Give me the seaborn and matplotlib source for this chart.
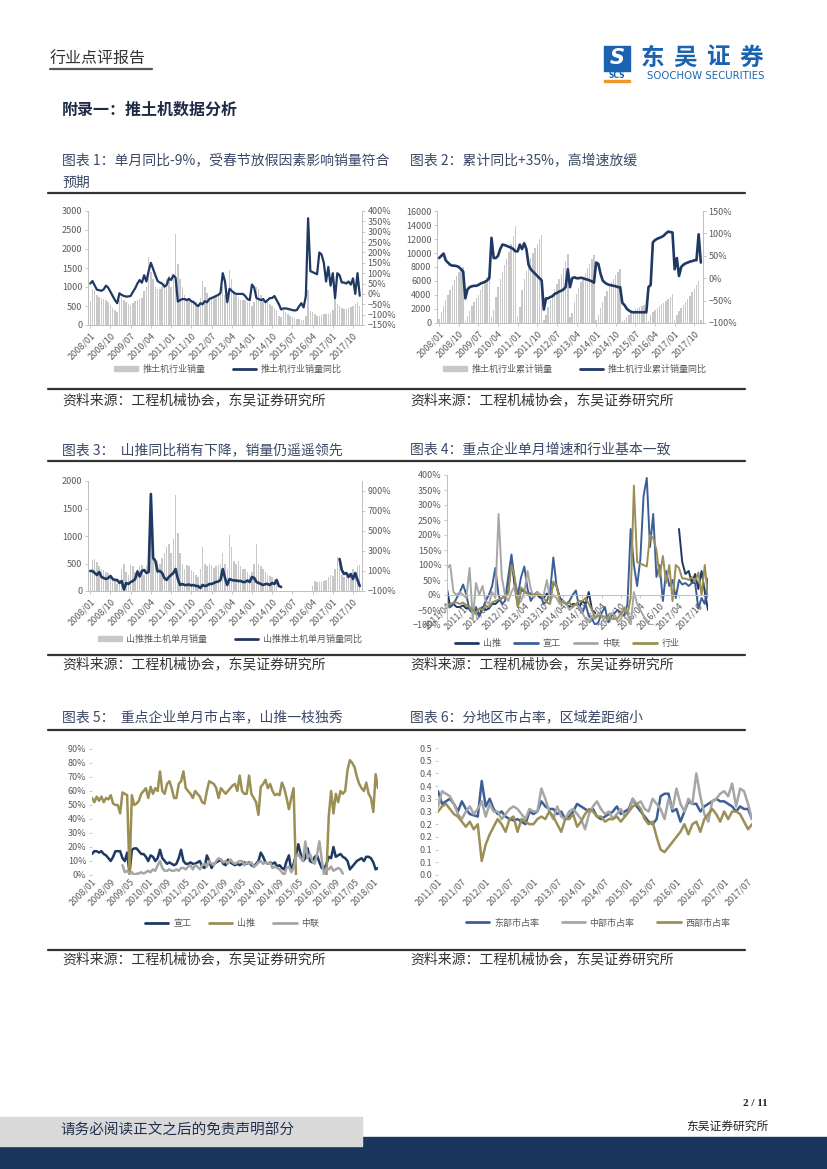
import numpy as np
import pandas as pd
import matplotlib
matplotlib.use("Agg")
import matplotlib.pyplot as plt
import matplotlib.ticker as mticker
from matplotlib.lines import Line2D
from matplotlib.patches import Patch, Rectangle
import seaborn as sns

nan = np.nan

# ── Data: industry bulldozer sales, 2008/01 – 2018/01 ─────────────────────────
IND_SALES = [630, 950, 920, 800, 740, 720, 680, 650, 610, 520, 440, 400,
             350, 650, 750, 650, 600, 550, 520, 580, 620, 650, 680, 700,
             900, 1000, 1800, 1400, 1200, 1000, 950, 950, 1000, 1100, 1200, 1300,
             1000, 1300, 2400, 1600, 1200, 1000, 800, 700, 700, 650, 650, 600,
             450, 700, 1150, 1000, 850, 750, 700, 700, 750, 850, 950, 1000,
             800, 700, 1450, 1200, 900, 800, 700, 650, 650, 650, 600, 600,
             500, 600, 1000, 950, 800, 700, 650, 600, 550, 500, 450, 400,
             250, 200, 400, 350, 300, 250, 200, 180, 170, 150, 130, 120,
             225, 930, 380, 330, 280, 250, 250, 270, 280, 280, 300, 320,
             400, 700, 550, 500, 450, 420, 420, 450, 470, 500, 550, 600,
             500]
IND_YOY = [50, 62, 40, 20, 18, 15, 22, 40, 30, 10, -10, -30,
           -45, 3, -5, -10, -13, -12, -10, 10, 27, 50, 67, 54,
           90, 60, 110, 150, 120, 90, 62, 55, 50, 35, 43, 75,
           67, 90, 78, -37, -30, -25, -25, -30, -25, -35, -40, -50,
           -60, -45, -50, -35, -40, -25, -20, -15, -10, -5, 5, 100,
           60, -40, 25, 15, 5, 0, 0, 0, 0, -10, -25, -30,
           45, 30, -20, -25, -30, -25, -40, -30, -20, -20, -10, -30,
           -50, -75, -70, -70, -72, -75, -78, -80, -78, -60, -45, -65,
           -10, 365, 110, 105, 100, 95, 200, 190, 150, 60, 130, 40,
           100, -20, 100, 90, 55, 55, 50, 60, 45, 75, 0, 100,
           -9]
IND_CUM = [630, 1580, 2500, 3300, 4040, 4760, 5440, 6090, 6700, 7220, 7660, 8060,
           350, 1000, 1750, 2400, 3000, 3550, 4070, 4650, 5270, 5920, 6600, 7300,
           900, 1900, 3700, 5100, 6300, 7300, 8250, 9200, 10200, 11300, 12500, 13800,
           1000, 2300, 4700, 6300, 7500, 8500, 9300, 10000, 10700, 11350, 12000, 12600,
           450, 1150, 2300, 3300, 4150, 4900, 5600, 6300, 7050, 7900, 8850, 9850,
           800, 1500, 2950, 4150, 5050, 5850, 6550, 7200, 7850, 8500, 9100, 9700,
           500, 1100, 2100, 3050, 3850, 4550, 5200, 5800, 6350, 6850, 7300, 7700,
           250, 450, 850, 1200, 1500, 1750, 1950, 2130, 2300, 2450, 2580, 2700,
           225, 1155, 1535, 1865, 2145, 2395, 2645, 2915, 3195, 3475, 3775, 4095,
           400, 1100, 1650, 2150, 2600, 3020, 3440, 3890, 4360, 4860, 5410, 6010,
           500]
IND_CUM_YOY = [45, 50, 55, 40, 35, 30, 28, 28, 27, 25, 20, 15,
               -45, -25, -20, -18, -17, -17, -15, -12, -10, -8, -5, 0,
               90, 45, 45, 50, 65, 75, 74, 72, 70, 68, 65, 60,
               60, 75, 65, 78, 65, 30, 20, 15, 10, 5, 0, -5,
               -70, -45, -45, -42, -40, -35, -33, -30, -28, -25, -20, 20,
               -20, 0, 2, 0, 0, 1, 0, -2, -3, -5, -7, -10,
               35, 32, 10, -5, -10, -13, -15, -16, -17, -18, -20, -20,
               -55, -60, -68, -72, -75, -76, -76, -76, -76, -76, -76, -76,
               -20, -15, 80, 85, 88, 90, 92, 95, 100, 104, 103, 102,
               20, 45, 5, 25, 30, 33, 35, 37, 38, 40, 40, 98,
               35]

# ── Data: Shantui monthly sales, 2008/01 – 2018/01 ────────────────────────────
ST_SALES = [350, 560, 580, 520, 450, 400, 380, 350, 320, 300, 250, 200,
            120, 200, 400, 500, 350, 300, 480, 450, 350, 400, 450, 480,
            300, 450, 900, 980, 800, 600, 550, 500, 600, 700, 800, 850,
            700, 950, 1750, 1050, 700, 500, 400, 480, 450, 380, 350, 300,
            250, 400, 800, 500, 450, 500, 480, 420, 450, 480, 500, 700,
            500, 400, 1020, 800, 550, 500, 550, 450, 400, 400, 350, 300,
            350, 500, 850, 500, 450, 400, 350, 300, 280, 250, 220, 180,
            nan, nan, nan, nan, nan, nan, nan, nan, nan, nan, nan, nan,
            nan, nan, nan, 100, 180, 160, 170, 170, 180, 200, 250, 300,
            280, 400, 620, 590, 300, 250, 280, 330, 300, 400, 350, 450,
            480]
ST_YOY = [100, 100, 80, 60, 90, 40, 30, 20, 30, 50, 20, 10,
          10, -20, 0, -85, -20, -30, -10, 0, 20, 95, 45, 100,
          110, 80, 90, 870, 230, 200, 95, 100, 80, 30, 10, 40,
          60, 80, 120, 20, -40, -30, -40, -40, -35, -45, -40, -50,
          -50, -70, -40, -50, -45, -30, -30, -20, -10, -5, 10, 120,
          30, -40, 20, 10, 5, 5, 0, 0, -10, -10, 5, -10,
          40, 30, -10, -20, -30, -40, -30, -30, -40, -20, -30, 10,
          -50, -60, nan, nan, nan, nan, nan, nan, nan, nan, nan, nan,
          nan, nan, nan, nan, nan, nan, nan, nan, nan, nan, nan, nan,
          nan, nan, nan, 220, 110, 70, 80, 40, 70, 20, 80, 10,
          -50]

# ── Data: chart 4, single-month yoy 2011/04 – 2018/01 (%) ────────────────────
XG_YOY = [-20, -40, -30, -10, 10, 35, 0, -50, -60,
          -40, -70, -50, -20, 0, 30, 90, 0, -30, -20, 60, 135,
          50, 0, 60, 95, 20, -20, 0, 10, 0, -30, -20, 10,
          125, 30, -10, -20, -30, -20, 0, 15, -40, -60, -30, -70,
          -80, -100, -90, -60, -40, -90, -70, -60, -50, -60, -70, -30,
          220, 100, 30, 120, 330, 390, 160, 270, 60, 100, -20, 80,
          30, 50, -10, 50, 35, 40, 30, 40, 40, -45, -10, -30,
          55]
ZL_YOY = [90, 100, 10, 0, 10, 0, -10, 90, -80, 40,
          0, 30, -20, -30, 10, -10, 270, 60, 0, -20,
          10, 30, -30, -20, 10, 80, 20, -10, 10, 0,
          0, 50, -20, 0, -10, -30, -20, -30, -50, -40,
          -30, -40, -60, -80, -90, -70, -80, -60, -70, -90,
          -80, -60, -70, -90, -80, -40, -60, -100, 10, -30,
          -50, -70, -90, -100, -100,
          nan, nan, nan, nan, nan, nan, nan, nan, nan, nan, nan, nan, nan, nan, nan, nan, nan]

# ── Data: chart 5, market share 2008/01 – 2018/03 (%) ─────────────────────────
SHARE_XG = [15, 17, 17, 16, 17, 15, 14, 12, 10, 13, 17, 17,
            17, 12, 10, 16, 1, 18, 19, 19, 17, 15, 15, 13,
            10, 14, 13, 10, 12, 18, 12, 10, 8, 9, 8, 7,
            8, 12, 18, 10, 8, 8, 9, 8, 8, 9, 10, 6,
            5, 14, 10, 5, 8, 9, 10, 11, 8, 7, 11, 9,
            8, 7, 8, 7, 8, 9, 8, 9, 7, 6, 8, 10,
            16, 13, 9, 8, 9, 8, 9, 6, 7, 5, 4, 10,
            14, 3, 8, 14, 22, 15, 10, 12, 19, 10, 9, 13,
            14, 9, 5, 4, 8, 13, 12, 20, 13, 14, 15, 13,
            12, 10, 4, 6, 8, 10, 11, 12, 10, 13, 13, 12,
            9, 4, 5]
SHARE_ST = [55, 52, 56, 53, 56, 52, 55, 54, 57, 51, 50, 50,
            44, 59, 58, 57, 0, 57, 50, 51, 53, 58, 60, 62,
            55, 63, 58, 62, 60, 74, 60, 58, 65, 67, 62, 55,
            55, 65, 67, 74, 62, 60, 58, 55, 60, 58, 56, 52,
            51, 60, 67, 66, 65, 62, 55, 62, 60, 58, 60, 62,
            64, 65, 60, 71, 60, 58, 58, 71, 58, 55, 52, 43,
            63, 65, 68, 62, 65, 60, 57, 58, 57, 66, 62, 55,
            47, 55, 62, 0, nan, nan, nan, nan, nan, nan, nan, nan,
            nan, nan, nan, nan, 0, 42, 60, 44, 58, 52, 60, 58,
            60, 75, 82, 80, 77, 70, 65, 62, 60, 66, 58, 55,
            45, 72, 62]
SHARE_ZL = [nan, nan, nan, nan, nan, nan, nan, nan, nan, nan, nan, nan,
            nan, 7, 2, 3, 1, 2, 0, 1, 1, 2, 1, 2,
            3, 2, 4, 3, 7, 10, 5, 3, 3, 4, 3, 3,
            4, 3, 5, 5, 4, 6, 7, 4, 7, 6, 4, 7,
            8, 6, 10, 8, 7, 10, 12, 11, 9, 10, 8, 11,
            9, 8, 9, 10, 10, 7, 9, 8, 9, 6, 7, 9,
            10, 8, 9, 8, 9, 5, 6, 5, 4, 2, 0, 5,
            6, 2, 5, 13, 15, 12, 10, 24, 12, 15, 10, 8,
            15, 24, 11, 0, 5, 4, 6, 3, 4, 5, 4, 1,
            nan, nan, nan, nan, nan, nan, nan, nan, nan, nan, nan, nan,
            nan, nan, nan]

# ── Data: chart 6, regional share 2011/01 – 2017/08 ──────────────────────────
EAST = [.33, .28, .29, .30, .28, .25, .29, .26, .24, .235, .23, .37,
        .27, .30, .26, .24, .25, .23, .22, .215, .22, .21, .20, .25,
        .24, .25, .29, .27, .26, .26, .24, .25, .22, .23, .25, .28,
        .27, .26, .25, .26, .23, .22, .23, .24, .25, .27, .24, .25,
        .26, .30, .27, .25, .23, .21, .20, .22, .31, .32, .32, .25,
        .26, .21, .25, .29, .28, .28, .25, .27, .28, .29, .30, .29,
        .29, .28, .27, .25, .27, .26, .26, .22]
CENTRAL = [.27, .33, .32, .31, .28, .24, .22, .25, .27, .24, .26, .29,
           .23, .28, .25, .25, .22, .24, .26, .27, .26, .24, .22, .26,
           .25, .25, .34, .30, .25, .22, .27, .23, .22, .25, .26, .24,
           .22, .18, .24, .27, .29, .26, .24, .25, .22, .24, .26, .23,
           .25, .30, .28, .29, .26, .25, .30, .28, .26, .22, .30, .26,
           .34, .28, .25, .30, .28, .40, .31, .24, .21, .29, .30, .32,
           .33, .31, .36, .27, .34, .33, .28, .22]
WEST = [.25, .27, .28, .26, .24, .23, .21, .19, .21, .18, .20, .055,
        .12, .16, .19, .22, .20, .17, .22, .23, .17, .22, .21, .20,
        .20, .22, .23, .22, .25, .23, .20, .17, .22, .22, .24, .19,
        .21, .24, .26, .25, .23, .23, .21, .22, .22, .23, .21, .23,
        .25, .27, .28, .26, .22, .20, .21, .15, .10, .09, .11, .13,
        .15, .17, .20, .16, .20, .21, .17, .22, .24, .26, .24, .21,
        .25, .22, .25, .25, .24, .21, .18, .20]

TICKS_9M = ["2008/01", "2008/10", "2009/07", "2010/04", "2011/01", "2011/10", "2012/07",
            "2013/04", "2014/01", "2014/10", "2015/07", "2016/04", "2017/01", "2017/10"]
TICKS_C4 = ["2011/04", "2011/10", "2012/04", "2012/10", "2013/04", "2013/10", "2014/04",
            "2014/10", "2015/04", "2015/10", "2016/04", "2016/10", "2017/04", "2017/10"]
TICKS_C5 = ["2008/01", "2008/09", "2009/05", "2010/01", "2010/09", "2011/05", "2012/01", "2012/09",
            "2013/05", "2014/01", "2014/09", "2015/05", "2016/01", "2016/09", "2017/05", "2018/01"]
TICKS_C6 = ["2011/01", "2011/07", "2012/01", "2012/07", "2013/01", "2013/07", "2014/01",
            "2014/07", "2015/01", "2015/07", "2016/01", "2016/07", "2017/01", "2017/07"]
Y6_TICKS = [0, .05, .10, .15, .20, .25, .30, .35, .40, .45, .50]
Y6_LABELS = ["0.0", "0.1", "0.1", "0.2", "0.2", "0.3", "0.3", "0.4", "0.4", "0.5", "0.5"]

# ── Style ─────────────────────────────────────────────────────────────────────
sns.set_theme(style="ticks")
plt.rcParams["font.family"] = ["Noto Sans CJK SC", "DejaVu Sans"]

BAR_C = "#c8c8c8"
NAVY = "#1f3864"
BLUE = "#3c5f97"
GRAY = "#a6a6a6"
OLIVE = "#9b8f55"
TICK_C = "#595959"
SPINE_C = "#bfbfbf"
TITLE_C = "#3a4966"

W, H = 827, 1169
fig = plt.figure(figsize=(W / 100, H / 100), dpi=100)


def fx(x):
    return x / W


def fy(y):
    return 1 - y / H


def add_ax(l, t, r, b):
    return fig.add_axes([fx(l), fy(b), (r - l) / W, (b - t) / H])


def hline(y, x0=48, x1=745, lw=1.6, color="#333333"):
    fig.add_artist(Line2D([fx(x0), fx(x1)], [fy(y), fy(y)], lw=lw, color=color))


def text(x, y, s, **kw):
    kw.setdefault("va", "center")
    fig.text(fx(x), fy(y), s, **kw)


def style(ax):
    ax.tick_params(labelsize=6.5, labelcolor=TICK_C, color=SPINE_C,
                   length=2.5, width=0.6, pad=1.5)
    ax.set_xlabel("")
    ax.set_ylabel("")
    for s in ax.spines.values():
        s.set_color(SPINE_C)
        s.set_linewidth(0.7)
    ax.spines["top"].set_visible(False)


def month_ticks(ax, labels, y0, m0):
    pos = [(int(s[:4]) - y0) * 12 + int(s[5:]) - m0 for s in labels]
    ax.set_xticks(pos, labels, rotation=45, ha="right", rotation_mode="anchor")


def draw_line(ax, values, color, lw=1.6):
    v = pd.Series(values, dtype=float)
    df = pd.DataFrame({"m": np.arange(len(v)), "v": v,
                       "seg": v.isna().cumsum()}).dropna()
    sns.lineplot(data=df, x="m", y="v", units="seg", estimator=None,
                 color=color, lw=lw, ax=ax)


def draw_bars(ax, values):
    sns.barplot(x=np.arange(len(values)), y=values, native_scale=True,
                color=BAR_C, saturation=1, width=0.65, errorbar=None,
                linewidth=0, edgecolor="none", ax=ax)


def legend(handles, labels, cx, cy, gap=3.0):
    fig.legend(handles, labels, loc="center", bbox_to_anchor=(fx(cx), fy(cy)),
               ncol=len(labels), frameon=False, fontsize=6.5, labelcolor=TICK_C,
               handlelength=2.6, handleheight=0.6, columnspacing=gap, handletextpad=0.5)


pct = mticker.StrMethodFormatter("{x:.0f}%")

# ── Page header / footer ──────────────────────────────────────────────────────
text(50, 59, "行业点评报告", fontsize=11.5, color="#333333")
hline(69, 50, 152, lw=1.6, color="#555555")
fig.add_artist(Rectangle((fx(604), fy(71)), 26 / W, 25 / H, color="#1b63b0"))
text(617, 58.5, "S", fontsize=15, color="white", fontweight="bold",
     style="italic", ha="center", family="DejaVu Sans")
text(617, 76, "SCS", fontsize=5.5, color="#1b63b0", fontweight="bold",
     ha="center", family="DejaVu Sans")
fig.add_artist(Rectangle((fx(604), fy(82)), 26 / W, 2 / H, color="#f0962a"))
for cx, ch in zip([652, 685, 718, 751], "东吴证券"):
    text(cx, 58, ch, fontsize=17, color="#1b63b0", fontweight="bold", ha="center")
text(706, 76, "SOOCHOW SECURITIES", fontsize=7.3, color="#1b63b0",
     ha="center", family="DejaVu Sans")
text(62, 110, "附录一：推土机数据分析", fontsize=11.5, color="#1f2a44", fontweight="bold")

fig.add_artist(Rectangle((0, 0), 1, (H - 1137) / H, color="#1b365d"))
fig.add_artist(Rectangle((0, fy(1146)), 362 / W, 29 / H, color="#d9d9d9"))
text(60, 1131, "请务必阅读正文之后的免责声明部分", fontsize=10.5, color="#1f2f4f")
text(768, 1104, "2 / 11", fontsize=8, color="#222222", ha="right",
     fontweight="bold", family="Liberation Serif")
text(768, 1126, "东吴证券研究所", fontsize=8.5, color="#222222", ha="right")

# ── Titles, rules, sources ────────────────────────────────────────────────────
text(62, 160, "图表 1：单月同比-9%，受春节放假因素影响销量符合", fontsize=10, color=TITLE_C)
text(62, 183, "预期", fontsize=10, color=TITLE_C)
text(410, 160, "图表 2：累计同比+35%，高增速放缓", fontsize=10, color=TITLE_C)
text(62, 450, "图表 3：  山推同比稍有下降，销量仍遥遥领先", fontsize=10, color=TITLE_C)
text(410, 450, "图表 4：重点企业单月增速和行业基本一致", fontsize=10, color=TITLE_C)
text(62, 717, "图表 5：  重点企业单月市占率，山推一枝独秀", fontsize=10, color=TITLE_C)
text(410, 717, "图表 6：分地区市占率，区域差距缩小", fontsize=10, color=TITLE_C)
for y in [193, 461, 730]:
    hline(y)
for y_rule, y_src in [(389, 400), (655, 664), (950, 959)]:
    hline(y_rule)
    text(62, y_src, "资料来源：工程机械协会，东吴证券研究所", fontsize=10, color="#333333")
    text(410, y_src, "资料来源：工程机械协会，东吴证券研究所", fontsize=10, color="#333333")

# ── Chart 1: monthly sales + yoy ──────────────────────────────────────────────
ax = add_ax(88, 211, 362, 325)
draw_bars(ax, IND_SALES)
ax.set_ylim(0, 3000)
ax.set_yticks(range(0, 3001, 500))
ax2 = ax.twinx()
draw_line(ax2, IND_YOY, NAVY)
ax2.set_ylim(-150, 400)
ax2.set_yticks(range(-150, 401, 50))
ax2.yaxis.set_major_formatter(pct)
for a in (ax, ax2):
    style(a)
ax.set_xlim(-1, len(IND_SALES))
month_ticks(ax, TICKS_9M, 2008, 1)
legend([Patch(color=BAR_C), Line2D([], [], color=NAVY, lw=2)],
       ["推土机行业销量", "推土机行业销量同比"], 228, 369)

# ── Chart 2: cumulative sales + yoy ───────────────────────────────────────────
ax = add_ax(437, 211, 703, 323)
draw_bars(ax, IND_CUM)
ax.set_ylim(0, 16000)
ax.set_yticks(range(0, 16001, 2000))
ax2 = ax.twinx()
draw_line(ax2, IND_CUM_YOY, NAVY, lw=1.9)
ax2.set_ylim(-100, 150)
ax2.set_yticks(range(-100, 151, 50))
ax2.yaxis.set_major_formatter(pct)
for a in (ax, ax2):
    style(a)
ax.set_xlim(-1, len(IND_CUM))
month_ticks(ax, TICKS_9M, 2008, 1)
legend([Patch(color=BAR_C), Line2D([], [], color=NAVY, lw=2)],
       ["推土机行业累计销量", "推土机行业累计销量同比"], 575, 369)

# ── Chart 3: Shantui monthly sales + yoy ──────────────────────────────────────
ax = add_ax(88, 481, 362, 591)
draw_bars(ax, ST_SALES)
ax.set_ylim(0, 2000)
ax.set_yticks(range(0, 2001, 500))
ax2 = ax.twinx()
draw_line(ax2, ST_YOY, NAVY, lw=1.9)
ax2.set_ylim(-100, 1000)
ax2.set_yticks(range(-100, 901, 200))
ax2.yaxis.set_major_formatter(pct)
for a in (ax, ax2):
    style(a)
ax.set_xlim(-1, len(ST_SALES))
month_ticks(ax, TICKS_9M, 2008, 1)
legend([Patch(color=BAR_C), Line2D([], [], color=NAVY, lw=2)],
       ["山推推土机单月销量", "山推推土机单月销量同比"], 230, 639)

# ── Chart 4: key companies yoy ────────────────────────────────────────────────
ax = add_ax(447, 475, 708, 625)
series4 = [("山推", ST_YOY[39:], NAVY), ("宣工", XG_YOY, BLUE),
           ("中联", ZL_YOY, GRAY), ("行业", IND_YOY[39:], OLIVE)]
for name, vals, c in series4:
    draw_line(ax, vals, c, lw=1.4)
ax.set_ylim(-100, 400)
ax.set_yticks(range(-100, 401, 50))
ax.yaxis.set_major_formatter(pct)
style(ax)
ax.spines["right"].set_visible(False)
ax.spines["bottom"].set_position(("data", 0))
ax.set_xlim(0, len(XG_YOY) - 1)
month_ticks(ax, TICKS_C4, 2011, 4)
legend([Line2D([], [], color=c, lw=2) for _, _, c in series4],
       [n for n, _, _ in series4], 567, 643, gap=1.5)

# ── Chart 5: market share by company ──────────────────────────────────────────
ax = add_ax(92, 749, 378, 875)
series5 = [("宣工", SHARE_XG, NAVY), ("山推", SHARE_ST, OLIVE), ("中联", SHARE_ZL, GRAY)]
for name, vals, c in series5:
    draw_line(ax, vals, c, lw=1.8)
ax.set_ylim(0, 90)
ax.set_yticks(range(0, 91, 10))
ax.yaxis.set_major_formatter(pct)
style(ax)
for s in ax.spines.values():
    s.set_visible(False)
ax.tick_params(axis="x", length=0)
ax.set_xlim(0, len(SHARE_ST) - 1)
month_ticks(ax, TICKS_C5, 2008, 1)
legend([Line2D([], [], color=c, lw=2) for _, _, c in series5],
       [n for n, _, _ in series5], 232, 923, gap=2.0)

# ── Chart 6: regional share ───────────────────────────────────────────────────
ax = add_ax(438, 748, 752, 875)
series6 = [("东部市占率", EAST, BLUE), ("中部市占率", CENTRAL, GRAY), ("西部市占率", WEST, OLIVE)]
for name, vals, c in series6:
    draw_line(ax, vals, c, lw=1.8)
ax.set_ylim(0, 0.5)
ax.set_yticks(Y6_TICKS, Y6_LABELS)
style(ax)
for s in ax.spines.values():
    s.set_visible(False)
ax.tick_params(axis="x", length=0)
ax.set_xlim(0, len(EAST) - 1)
month_ticks(ax, TICKS_C6, 2011, 1)
legend([Line2D([], [], color=c, lw=2) for _, _, c in series6],
       [n for n, _, _ in series6], 598, 923, gap=2.5)

fig.savefig("out.png", dpi=100, facecolor="white")
